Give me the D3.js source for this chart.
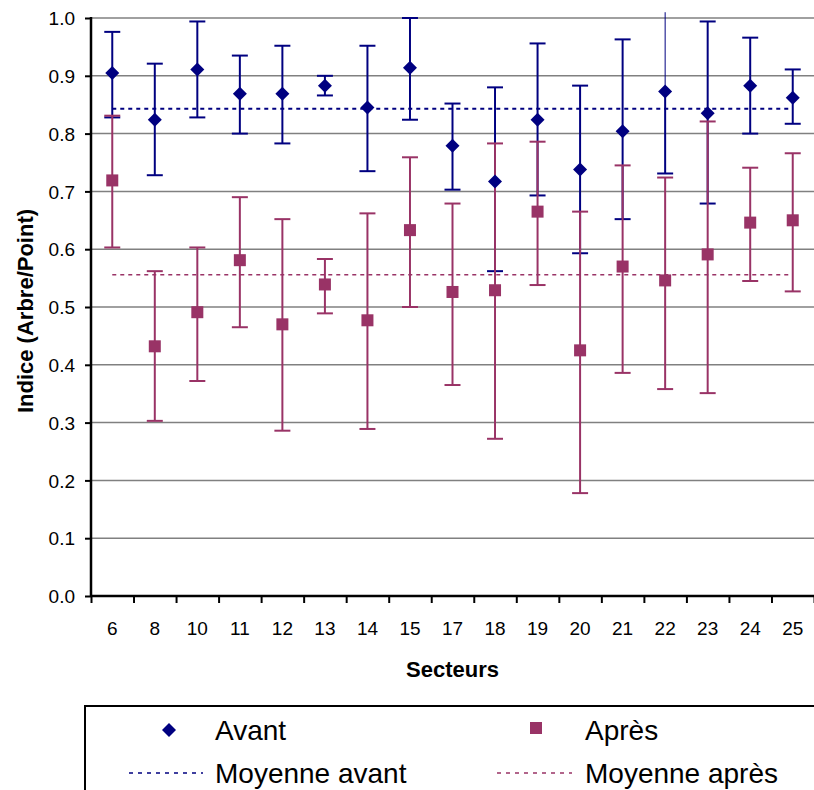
<!DOCTYPE html>
<html>
<head>
<meta charset="utf-8">
<script src="https://cdn.jsdelivr.net/npm/d3@7"></script>
<style>
  body { margin: 0; background: #fff; }
  text { font-family: "Liberation Sans", Arial, sans-serif; }
</style>
</head>
<body>
<div id="chart"></div>
<script>
// Secteurs et indices
const secteurs = ["6", "8", "10", "11", "12", "13", "14", "15", "17", "18", "19", "20", "21", "22", "23", "24", "25"];
const avant     = [0.905, 0.824, 0.911, 0.869, 0.869, 0.883, 0.845, 0.914, 0.779, 0.717, 0.824, 0.738, 0.804, 0.873, 0.835, 0.883, 0.862];
const avantHaut = [0.976, 0.921, 0.994, 0.935, 0.952, 0.900, 0.952, 1.000, 0.852, 0.880, 0.956, 0.883, 0.963, 1.010, 0.994, 0.966, 0.911];
const avantBas  = [0.828, 0.728, 0.828, 0.800, 0.783, 0.866, 0.735, 0.824, 0.703, 0.562, 0.693, 0.593, 0.652, 0.731, 0.679, 0.800, 0.817];
const apres     = [0.719, 0.432, 0.491, 0.581, 0.470, 0.539, 0.477, 0.633, 0.526, 0.529, 0.665, 0.425, 0.570, 0.546, 0.591, 0.646, 0.650];
const apresHaut = [0.831, 0.562, 0.603, 0.690, 0.652, 0.583, 0.662, 0.759, 0.679, 0.783, 0.786, 0.665, 0.745, 0.724, 0.821, 0.741, 0.766];
const apresBas  = [0.603, 0.303, 0.372, 0.465, 0.286, 0.489, 0.289, 0.500, 0.365, 0.272, 0.538, 0.178, 0.386, 0.358, 0.351, 0.545, 0.527];
const moyenneAvant = 0.843;
const moyenneApres = 0.556;
const yTicks = [0, 0.1, 0.2, 0.3, 0.4, 0.5, 0.6, 0.7, 0.8, 0.9, 1.0];

const width = 814, height = 790;
const plotLeft = 91, plotRight = 814, plotTop = 18, plotBottom = 596;
const bleu = "#000080", rose = "#993366";

const svg = d3.select("#chart").append("svg")
    .attr("width", width)
    .attr("height", height);

const x = d3.scaleBand().domain(secteurs).range([plotLeft, plotRight]);
const xi = d3.scaleLinear().domain([0, secteurs.length]).range([plotLeft, plotRight]);
const y = d3.scaleLinear().domain([0, 1]).range([plotBottom, plotTop]);
const cx = s => x(s) + x.bandwidth() / 2;

// grille horizontale
svg.append("g")
    .selectAll("line")
    .data(yTicks.slice(1))
    .enter().append("line")
    .attr("x1", plotLeft).attr("x2", plotRight)
    .attr("y1", d => y(d)).attr("y2", d => y(d))
    .attr("stroke", "#808080")
    .attr("stroke-width", 1.5);

// barres d'erreur (au-dessus de 1.0 : trait fin sans chapeau, comme Excel)
function bars(center, lo, hi, color) {
  const g = svg.append("g");
  secteurs.forEach((s, i) => {
    const px = cx(s);
    const clipped = hi[i] > 1;
    g.append("line")
        .attr("x1", px).attr("x2", px)
        .attr("y1", y(center[i])).attr("y2", y(hi[i]))
        .attr("stroke", color)
        .attr("stroke-width", clipped ? 1 : 2);
    g.append("line")
        .attr("x1", px).attr("x2", px)
        .attr("y1", y(center[i])).attr("y2", y(lo[i]))
        .attr("stroke", color)
        .attr("stroke-width", 2);
    (clipped ? [lo[i]] : [lo[i], hi[i]]).forEach(v => {
      g.append("line")
          .attr("x1", px - 8).attr("x2", px + 8)
          .attr("y1", y(v)).attr("y2", y(v))
          .attr("stroke", color)
          .attr("stroke-width", 2);
    });
  });
}

bars(avant, avantBas, avantHaut, bleu);
bars(apres, apresBas, apresHaut, rose);

// moyennes
const x0 = cx(secteurs[0]), x1 = cx(secteurs[secteurs.length - 1]);
svg.append("line")
    .attr("x1", x0).attr("x2", x1)
    .attr("y1", y(moyenneAvant)).attr("y2", y(moyenneAvant))
    .attr("stroke", bleu).attr("stroke-width", 2)
    .attr("stroke-dasharray", "4,4");
svg.append("line")
    .attr("x1", x0).attr("x2", x1)
    .attr("y1", y(moyenneApres)).attr("y2", y(moyenneApres))
    .attr("stroke", rose).attr("stroke-width", 1.5)
    .attr("stroke-dasharray", "4,4");

// marqueurs
svg.append("g").selectAll("path")
    .data(secteurs)
    .enter().append("path")
    .attr("d", "M0,-7L7,0L0,7L-7,0Z")
    .attr("transform", (s, i) => "translate(" + cx(s) + "," + y(avant[i]) + ")")
    .attr("fill", bleu);

svg.append("g").selectAll("rect")
    .data(secteurs)
    .enter().append("rect")
    .attr("x", s => cx(s) - 6)
    .attr("y", (s, i) => y(apres[i]) - 6)
    .attr("width", 12).attr("height", 12)
    .attr("fill", rose);

// axes
const yAxis = svg.append("g")
    .attr("transform", "translate(" + plotLeft + ",0)")
    .call(d3.axisLeft(y).tickValues(yTicks).tickFormat(d3.format(".1f")).tickSize(6).tickPadding(10));
const xAxis = svg.append("g")
    .attr("transform", "translate(0," + plotBottom + ")")
    .call(d3.axisBottom(xi).tickValues(d3.range(secteurs.length + 1)).tickFormat("").tickSize(7));
const xLabels = svg.append("g")
    .attr("transform", "translate(0," + plotBottom + ")")
    .call(d3.axisBottom(x).tickSize(0).tickPadding(26));
xLabels.select(".domain").remove();

[yAxis, xAxis].forEach(a => {
  a.select(".domain").attr("stroke", "#000").attr("stroke-width", 2.5);
  a.selectAll(".tick line").attr("stroke", "#000").attr("stroke-width", 2);
});
yAxis.select(".domain").attr("d", "M0," + (plotTop - 1) + "V" + plotBottom);
xAxis.select(".domain").attr("d", "M" + plotLeft + ",0H" + plotRight);
[yAxis, xLabels].forEach(a => {
  a.selectAll(".tick text")
      .attr("font-family", "Liberation Sans, Arial, sans-serif")
      .attr("font-size", 19)
      .attr("fill", "#000");
});
yAxis.selectAll(".tick text").attr("dy", "0.35em");
xLabels.selectAll(".tick text").attr("dy", "0.71em");

// titres
svg.append("text")
    .attr("x", (plotLeft + plotRight) / 2).attr("y", 677)
    .attr("text-anchor", "middle")
    .attr("font-size", 22).attr("font-weight", "bold")
    .text("Secteurs");
svg.append("text")
    .attr("transform", "translate(33," + ((plotTop + plotBottom) / 2 + 4) + ") rotate(-90)")
    .attr("text-anchor", "middle")
    .attr("font-size", 22).attr("font-weight", "bold")
    .text("Indice (Arbre/Point)");

// légende
const legend = svg.append("g");
legend.append("rect")
    .attr("x", 85).attr("y", 706)
    .attr("width", 760).attr("height", 120)
    .attr("fill", "none").attr("stroke", "#000").attr("stroke-width", 2);
legend.append("path")
    .attr("d", "M0,-7L7,0L0,7L-7,0Z")
    .attr("transform", "translate(169,730)")
    .attr("fill", bleu);
legend.append("rect")
    .attr("x", 530).attr("y", 722).attr("width", 12).attr("height", 12)
    .attr("fill", rose);
legend.append("line")
    .attr("x1", 129).attr("x2", 203).attr("y1", 773).attr("y2", 773)
    .attr("stroke", bleu).attr("stroke-width", 1.5).attr("stroke-dasharray", "4,5");
legend.append("line")
    .attr("x1", 497).attr("x2", 572).attr("y1", 773).attr("y2", 773)
    .attr("stroke", rose).attr("stroke-width", 1.5).attr("stroke-dasharray", "4,5");
const legendItems = [
  { label: "Avant", x: 215, y: 740 },
  { label: "Après", x: 585, y: 740 },
  { label: "Moyenne avant", x: 215, y: 783 },
  { label: "Moyenne après", x: 585, y: 783 }
];
legend.selectAll("text.item")
    .data(legendItems)
    .enter().append("text")
    .attr("class", "item")
    .attr("x", d => d.x).attr("y", d => d.y)
    .attr("font-size", 28)
    .text(d => d.label);
</script>
</body>
</html>
